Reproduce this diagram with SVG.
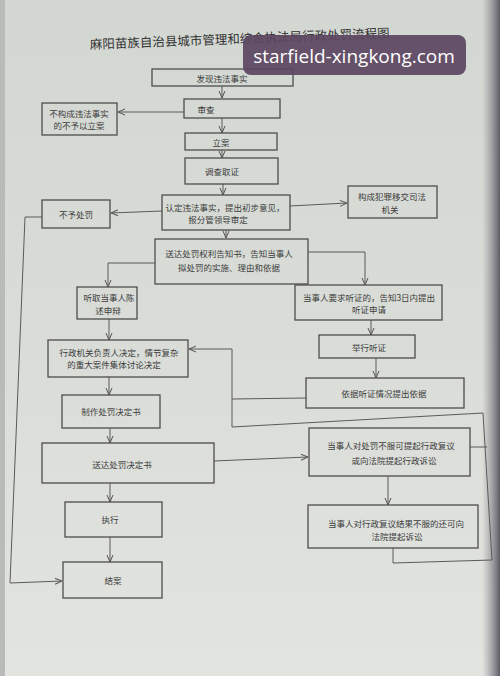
<svg xmlns="http://www.w3.org/2000/svg" width="500" height="676" viewBox="0 0 500 676">
<defs>
<linearGradient id="paper" x1="0" y1="0" x2="0" y2="1">
<stop offset="0" stop-color="#d3d7d2"/>
<stop offset="0.5" stop-color="#d9dcd7"/>
<stop offset="1" stop-color="#e2e4e0"/>
</linearGradient>
<linearGradient id="edge" x1="0" y1="0" x2="1" y2="0">
<stop offset="0" stop-color="#8a8790" stop-opacity="0"/>
<stop offset="1" stop-color="#5f5a66"/>
</linearGradient>
<marker id="a" viewBox="0 0 8 8" refX="8" refY="4" markerWidth="8" markerHeight="8" orient="auto" markerUnits="userSpaceOnUse">
<path d="M1,1 L8,4 L1,7" fill="none" stroke="#555" stroke-width="1"/>
</marker>
<style>
.b{fill:none;stroke:#4e4e4e;stroke-width:1.3}
.t{font-family:"Noto Sans CJK SC","Noto Sans",sans-serif;font-size:8.5px;fill:#3c3c3c;text-anchor:middle;dominant-baseline:central}
.c{fill:none;stroke:#5a5a5a;stroke-width:1}
.ar{marker-end:url(#a)}
</style>
</defs>
<rect width="500" height="676" fill="url(#paper)"/>
<rect x="482" y="0" width="18" height="676" fill="url(#edge)"/>
<rect x="0" y="0" width="5" height="676" fill="#b8bbb7"/>
<text x="90" y="49" transform="rotate(-2.2 90 49)" style="font-family:'Noto Sans CJK SC',sans-serif;font-size:12.5px;fill:#333">麻阳苗族自治县城市管理和综合执法局行政处罚流程图</text>

<g id="connectors">
<line class="c ar" x1="222" y1="86" x2="222" y2="98"/>
<line class="c ar" x1="184" y1="112" x2="118" y2="112"/>
<line class="c ar" x1="222" y1="118" x2="222" y2="133"/>
<line class="c ar" x1="222" y1="150" x2="222" y2="158"/>
<line class="c ar" x1="223" y1="184" x2="223" y2="195"/>
<line class="c ar" x1="290" y1="206" x2="347" y2="203"/>
<line class="c ar" x1="162" y1="211" x2="111" y2="213"/>
<polyline class="c ar" points="42,217 25,217 10,583 62,581"/>
<line class="c ar" x1="226" y1="230" x2="226" y2="238"/>
<polyline class="c ar" points="155,263 108,263 108,287"/>
<polyline class="c ar" points="308,252 365,252 365,285"/>
<line class="c ar" x1="109" y1="319" x2="109" y2="340"/>
<line class="c ar" x1="371" y1="320" x2="371" y2="335"/>
<line class="c ar" x1="376" y1="358" x2="376" y2="378"/>
<polyline class="c" points="306,398 232,399"/>
<polyline class="c ar" points="232,427 232,349 189,349"/>
<polyline class="c" points="232,427 483,413 492,560 393,563 393,548"/>
<line class="c" x1="470" y1="447" x2="487" y2="447"/>
<line class="c ar" x1="109" y1="377" x2="109" y2="395"/>
<line class="c ar" x1="110" y1="428" x2="110" y2="443"/>
<line class="c ar" x1="214" y1="461" x2="308" y2="457"/>
<line class="c ar" x1="388" y1="476" x2="388" y2="505"/>
<line class="c ar" x1="110" y1="483" x2="110" y2="502"/>
<line class="c ar" x1="110" y1="537" x2="110" y2="562"/>
</g>

<g id="n1"><rect class="b" x="152" y="69" width="141" height="17"/><text class="t" x="222" y="78">发现违法事实</text></g>
<g id="n2"><rect class="b" x="184" y="99" width="96" height="19"/><text class="t" x="206" y="109">审查</text></g>
<g id="n3"><rect class="b" x="42" y="103" width="75" height="32"/><text class="t" x="79" y="113">不构成违法事实</text><text class="t" x="79" y="125">的不予以立案</text></g>
<g id="n4"><rect class="b" x="185" y="133" width="92" height="17"/><text class="t" x="221" y="142">立案</text></g>
<g id="n5"><rect class="b" x="185" y="158" width="93" height="26"/><text class="t" x="222" y="171">调查取证</text></g>
<g id="n6"><rect class="b" x="162" y="195" width="128" height="35"/><text class="t" x="225" y="207">认定违法事实，提出初步意见，</text><text class="t" x="218" y="219">报分管领导审定</text></g>
<g id="n7"><rect class="b" x="348" y="186" width="89" height="32"/><text class="t" x="392" y="196">构成犯罪移交司法</text><text class="t" x="390" y="209">机关</text></g>
<g id="n8"><rect class="b" x="42" y="200" width="68" height="28"/><text class="t" x="76" y="214">不予处罚</text></g>
<g id="n9"><rect class="b" x="155" y="239" width="153" height="45"/><text class="t" x="229" y="253">送达处罚权利告知书，告知当事人</text><text class="t" x="229" y="267">拟处罚的实施、理由和依据</text></g>
<g id="n10"><rect class="b" x="77" y="287" width="60" height="32"/><text class="t" x="109" y="297">听取当事人陈</text><text class="t" x="108" y="310">述申辩</text></g>
<g id="n11"><rect class="b" x="295" y="285" width="147" height="35"/><text class="t" x="369" y="297">当事人要求听证的，告知3日内提出</text><text class="t" x="369" y="309">听证申请</text></g>
<g id="n12"><rect class="b" x="48" y="340" width="140" height="37"/><text class="t" x="119" y="352">行政机关负责人决定，情节复杂</text><text class="t" x="114" y="364">的重大案件集体讨论决定</text></g>
<g id="n13"><rect class="b" x="319" y="335" width="96" height="23"/><text class="t" x="369" y="347">举行听证</text></g>
<g id="n14"><rect class="b" x="306" y="378" width="158" height="30"/><text class="t" x="384" y="393">依据听证情况提出依据</text></g>
<g id="n15"><rect class="b" x="62" y="395" width="98" height="33"/><text class="t" x="111" y="411">制作处罚决定书</text></g>
<g id="n16"><rect class="b" x="42" y="443" width="172" height="40"/><text class="t" x="122" y="464">送达处罚决定书</text></g>
<g id="n17"><rect class="b" x="309" y="428" width="161" height="48"/><text class="t" x="391" y="445">当事人对处罚不服可提起行政复议</text><text class="t" x="394" y="460">或向法院提起行政诉讼</text></g>
<g id="n18"><rect class="b" x="65" y="502" width="97" height="35"/><text class="t" x="110" y="519">执行</text></g>
<g id="n19"><rect class="b" x="308" y="505" width="170" height="43"/><text class="t" x="396" y="523">当事人对行政复议结果不服的还可向</text><text class="t" x="397" y="536">法院提起诉讼</text></g>
<g id="n20"><rect class="b" x="63" y="562" width="99" height="36"/><text class="t" x="113" y="580">结案</text></g>

<g id="watermark">
<rect x="243" y="35" width="223" height="40" rx="8" fill="#5b4560" fill-opacity="0.92"/>
<text x="354" y="56" style="font-family:'Open Sans','DejaVu Sans',sans-serif;font-size:19px;fill:#ffffff;text-anchor:middle;dominant-baseline:central">starfield-xingkong.com</text>
</g>
</svg>
